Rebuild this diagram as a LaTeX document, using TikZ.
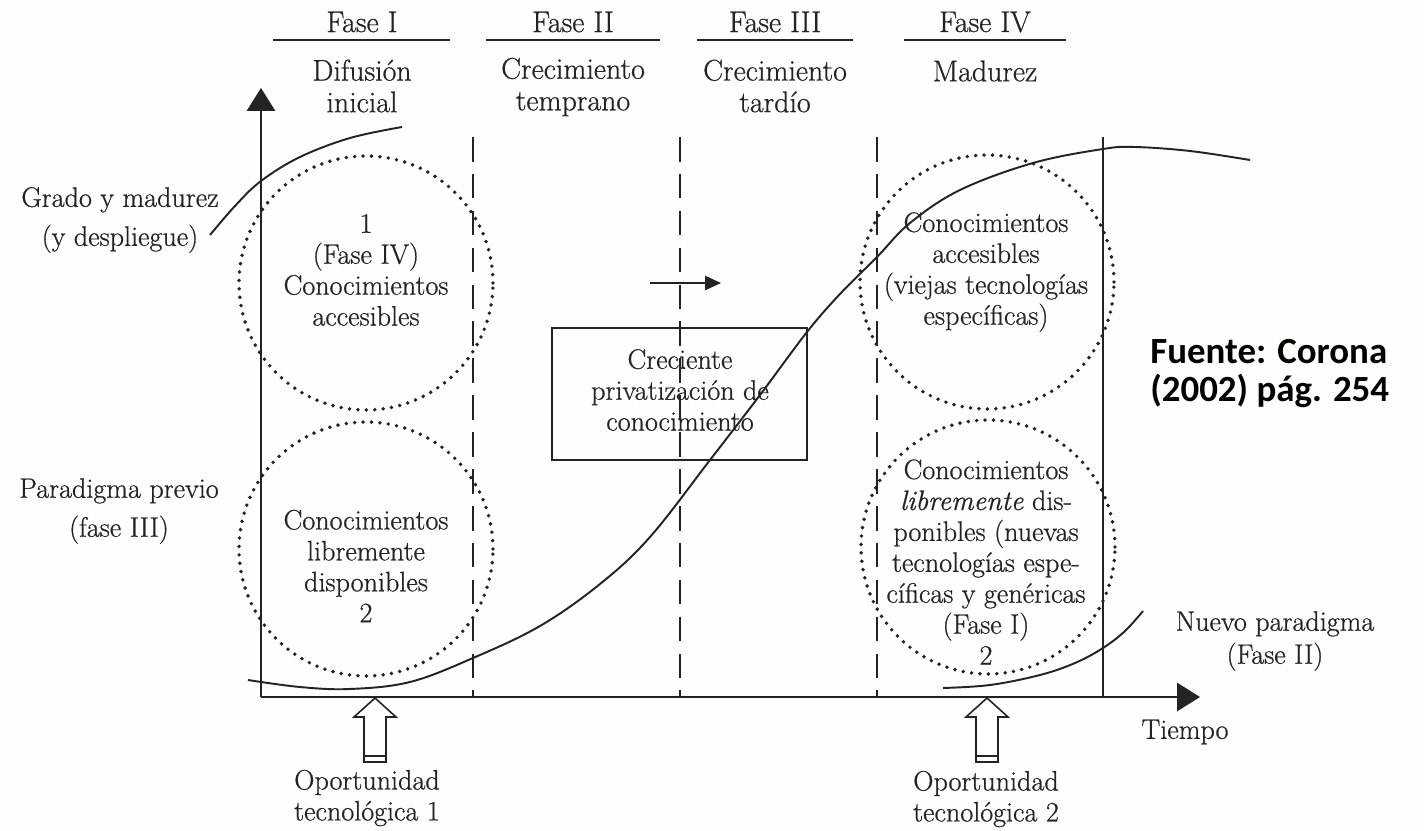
\documentclass[tikz,border=0pt]{standalone}
\usepackage{fontspec}
\setmainfont{Latin Modern Roman}[FakeBold=0.7]
\newfontfamily\fuentefont{Carlito}
\usetikzlibrary{arrows.meta}
\definecolor{bg}{RGB}{254,254,250}
\definecolor{ink}{RGB}{35,35,35}
\begin{document}
\begin{tikzpicture}[x=0.02cm,y=-0.02cm,
  ln/.style={line width=1.1pt, draw=ink},
  txt/.style={font=\fontsize{16}{17.6}\selectfont, align=center, inner sep=0pt, text=ink},
  wide/.style={font=\fontsize{16}{22.2}\selectfont, align=center, inner sep=0pt, text=ink},
  hdr/.style={font=\fontsize{17}{18}\selectfont, align=center, inner sep=0pt, text=ink},
  dotc/.style={circle, draw=ink, line width=2.2pt, dash pattern=on 0pt off 4.8pt, line cap=round, minimum size=5.08cm, inner sep=0pt},
  dsh/.style={line width=1.1pt, draw=ink, dash pattern=on 14pt off 7pt},
  axisarrow/.style={line width=1.2pt, draw=ink, -{Triangle[length=13pt,width=16pt]}},
  curveline/.style={line width=1.1pt, draw=ink},
  blockarrow/.style={line width=0.9pt, draw=ink, fill=white},
  boxnode/.style={draw=ink, line width=1.1pt, minimum width=5.1cm, minimum height=2.64cm, inner sep=0pt}
]
\useasboundingbox (0,0) rectangle (1424,831);
\fill[bg] (0,0) rectangle (1424,831);

% header
\node[hdr] (f1) at (362,22) {Fase I};
\node[hdr] (f2) at (573,22) {Fase II};
\node[hdr] (f3) at (775,22) {Fase III};
\node[hdr] (f4) at (985,22) {Fase IV};
\draw[ln] (273,40) -- (450,40);
\draw[ln] (486,40) -- (660,40);
\draw[ln] (697,40) -- (853,40);
\draw[ln] (904,40) -- (1066,40);
\node[hdr] (d1) at (362,86) {Difusión\\inicial};
\node[hdr] (d2) at (573,87) {Crecimiento\\temprano};
\node[hdr] (d3) at (775,86) {Crecimiento\\tardío};
\node[hdr] (d4) at (985,71) {Madurez};

% axes
\coordinate (origin) at (261,697);
\coordinate (ytip) at (261,88);
\coordinate (xtip) at (1200,697);
\draw[axisarrow] (origin) -- (ytip);
\draw[axisarrow] (origin) -- (xtip);

% phase separators
\coordinate (s1a) at (473,137); \coordinate (s1b) at (473,697);
\coordinate (s2a) at (680,137); \coordinate (s2b) at (680,697);
\coordinate (s3a) at (877,137); \coordinate (s3b) at (877,697);
\coordinate (s4a) at (1103,137); \coordinate (s4b) at (1103,697);
\draw[dsh] (s1a) -- (s1b);
\draw[dsh] (s2a) -- (s2b);
\draw[dsh] (s3a) -- (s3b);
\draw[ln] (s4a) -- (s4b);

% dotted circles
\node[dotc] (c1) at (366,283) {};
\node[dotc] (c2) at (366,549) {};
\node[dotc] (c3) at (987,282) {};
\node[dotc] (c4) at (988,547) {};

% circle texts
\node[txt] (t1) at (366,270) {1\\(Fase IV)\\Conocimientos\\accesibles};
\node[txt] (t2) at (366,566) {Conocimientos\\libremente\\disponibles\\2};
\node[txt] (t3) at (986,272) {Conocimientos\\accesibles\\(viejas tecnologías\\específicas)};
\node[txt] (t4) at (986,562) {Conocimientos\\\textit{libremente} dis-\\ponibles (nuevas\\tecnologías espe-\\cíficas y genéricas\\(Fase I)\\2};

% box
\node[boxnode] (box) at (679.5,394) {};
\node[txt] (boxt) at (680,390) {Creciente\\privatización de\\conocimiento};

% small arrow
\coordinate (sa) at (650,283);
\coordinate (sb) at (721,283);
\draw[line width=1.1pt, draw=ink, -{Triangle[length=9pt,width=8pt]}] (sa) -- (sb);

% curves
\draw[curveline] plot[smooth, tension=0.6] coordinates {(210,235) (235,206) (261,181) (300,157) (350,138) (402,127)};
\draw[curveline] plot[smooth, tension=0.6] coordinates {(248,680) (300,687) (350,689) (410,682) (473,658) (540,626) (600,584) (650,537) (710,460) (760,395) (807,332) (840,294) (877,257) (910,223) (960,190) (1033,163) (1103,149) (1135,147) (1190,151) (1250,160)};
\draw[curveline] plot[smooth, tension=0.6] coordinates {(943,688) (990,685) (1040,675) (1075,663) (1103,648) (1125,631) (1143,611)};

% left labels
\node[wide] (grado) at (120,220) {Grado y madurez\\(y despliegue)};
\node[wide] (parad) at (119,511) {Paradigma previo\\(fase III)};

% right labels
\node[txt, font=\fontsize{16}{18.8}\selectfont] (nuevo) at (1275,641) {Nuevo paradigma\\(Fase II)};
\node[txt] (tiempo) at (1185,732) {Tiempo};

% block arrows
\draw[blockarrow] (375,698) -- (396,717) -- (386,717) -- (386,762) -- (364,762) -- (364,717) -- (354,717) -- cycle;
\draw[line width=0.8pt, draw=ink] (364,756) -- (386,756);
\draw[blockarrow] (987,698) -- (1008,717) -- (998,717) -- (998,762) -- (976,762) -- (976,717) -- (966,717) -- cycle;
\draw[line width=0.8pt, draw=ink] (976,756) -- (998,756);

\node[txt] (op1) at (367,798) {Oportunidad\\tecnológica 1};
\node[txt] (op2) at (986,799) {Oportunidad\\tecnológica 2};

% source
\node[anchor=west, align=left, inner sep=0pt, font=\fuentefont\bfseries\fontsize{21}{21.6}\selectfont] (fuente) at (1150,374) {Fuente: Corona\\(2002) pág. 254};
\end{tikzpicture}
\end{document}
